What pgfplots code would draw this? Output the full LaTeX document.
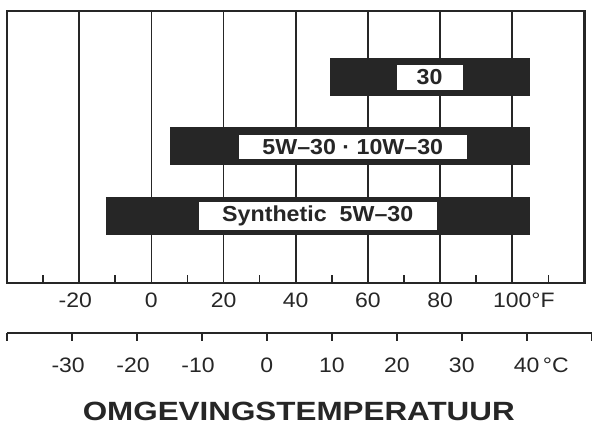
\documentclass[border=0pt]{standalone}
\usepackage{fontspec}
\setmainfont{Liberation Sans}
\newfontfamily\tickfont[FakeStretch=1.1]{Liberation Sans}
\newfontfamily\labelfont[FakeStretch=1.07]{Liberation Sans Bold}
\newfontfamily\titlefont[FakeStretch=1.19]{Liberation Sans Bold}
\usepackage{pgfplots}
\pgfplotsset{compat=1.18}
\definecolor{ink}{RGB}{38,38,38}
\tikzset{oilbox/.style={fill=white, inner sep=0pt, text=ink,
    font=\fontsize{21.8}{25}\labelfont}}

\begin{document}
\begin{tikzpicture}
\begin{axis}[
  at={(0,0)}, anchor=south west,
  scale only axis, width=578bp, height=272bp,
  xmin=-40, xmax=120, ymin=0, ymax=272,
  ytick=\empty,
  xtick={-20,0,...,100},
  xticklabels={\llap{-}20,0,20,40,60,80,100\rlap{°F}},
  minor xtick={-30,-10,...,110},
  xtick pos=bottom,
  tick align=inside,
  major tick length=0pt, minor tick length=8bp,
  minor tick style={ink, line width=1.6bp},
  xmajorgrids, major grid style={ink, line width=1.7bp},
  axis line style={ink, line width=2.2bp},
  /pgf/number format/assume math mode=true,
  xticklabel style={anchor=base, yshift=-25bp, text=ink, font=\fontsize{21}{25}\tickfont},
]
% oil ranges in degrees F, y = row centre
\addplot[ink, line width=38bp] coordinates {(-12.6,67) (104.8,67)};
\addplot[ink, line width=38bp] coordinates {(5.2,136.5) (104.8,136.5)};
\addplot[ink, line width=38bp] coordinates {(49.5,205.5) (104.8,205.5)};
\node[oilbox, minimum width=66bp, minimum height=25bp] at (axis cs:77.1,205.5) {30};
\node[oilbox, minimum width=228bp, minimum height=24bp] at (axis cs:55.8,136) {5W–30 · 10W–30};
\node[oilbox, minimum width=238bp, minimum height=28bp] at (axis cs:46.1,67) {Synthetic\hspace{0.6em}5W–30};
\end{axis}

\begin{axis}[
  at={(0,-50bp)}, anchor=south west,
  scale only axis, width=585.2bp, height=10bp,
  xmin=-40, xmax=50, ymin=0, ymax=1,
  axis y line=none, axis x line=bottom,
  axis line style={-, ink, line width=2bp},
  xtick={-40,-30,...,50},
  xticklabels={,\llap{-}30,\llap{-}20,\llap{-}10,0,10,20,30,40\rlap{\,°C},},
  tick align=outside, major tick length=8bp,
  major tick style={ink, line width=1.6bp},
  /pgf/number format/assume math mode=true,
  xticklabel style={anchor=base, yshift=-32bp, text=ink, font=\fontsize{21}{25}\tickfont},
]
\addplot[draw=none] coordinates {(0,0.5)};
\end{axis}

\node[anchor=base, text=ink, font=\fontsize{26.5}{30}\titlefont] at (292bp,-138bp) {OMGEVINGSTEMPERATUUR};
\path[use as bounding box] (-7bp,-142bp) rectangle (588bp,283bp);
\end{tikzpicture}
\end{document}
